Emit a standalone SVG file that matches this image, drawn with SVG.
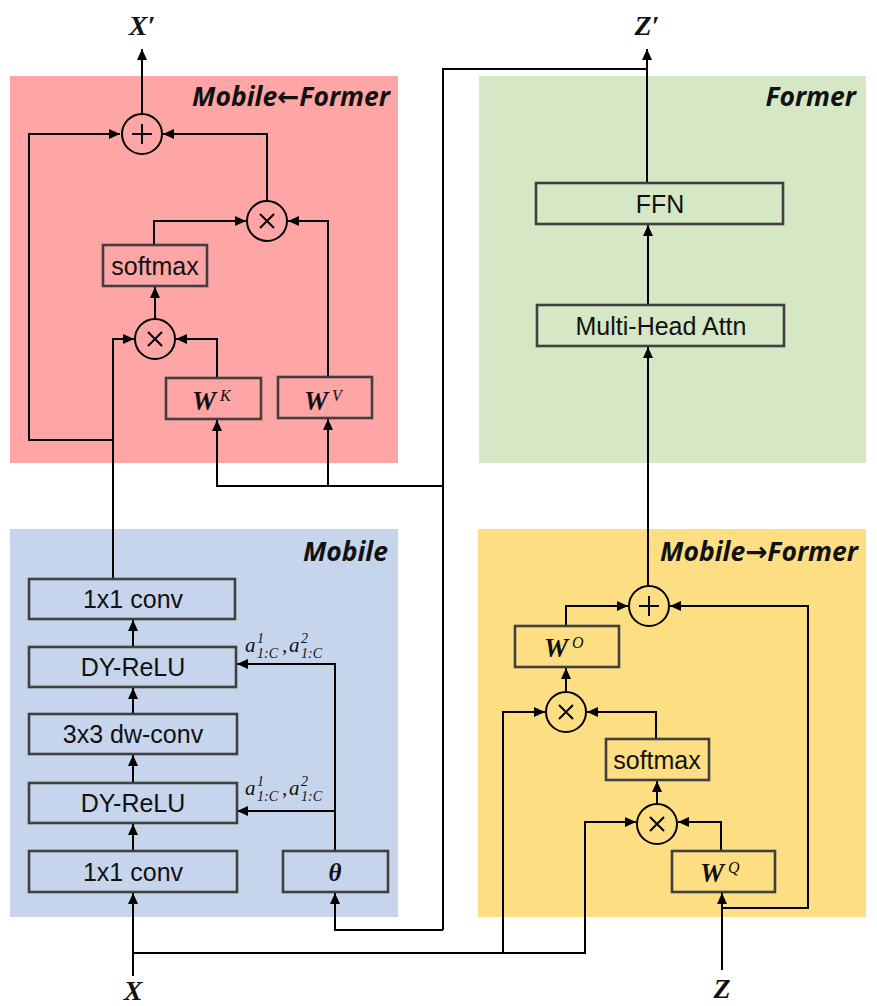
<svg xmlns="http://www.w3.org/2000/svg" width="877" height="1006" viewBox="0 0 877 1006">
<style>
.panel{stroke:none}
.box{stroke:#404040;stroke-width:2.6;fill:none}
.op{stroke:#000;stroke-width:2;fill:none}
.c{stroke:#000;stroke-width:2;fill:none}
.t{font-family:"Liberation Sans",Arial,sans-serif;font-size:25px;fill:#111;text-anchor:middle}
.pl{font-family:"Open Sans","DejaVu Sans",sans-serif;font-size:26.5px;font-weight:bold;font-style:italic;fill:#111;text-anchor:end}
.m{font-family:"Liberation Serif","DejaVu Serif",serif;font-weight:bold;font-style:italic;fill:#111}
.ms{font-family:"Liberation Serif","DejaVu Serif",serif;font-style:italic;fill:#111}
</style>
<defs>
<marker id="ah" markerUnits="userSpaceOnUse" markerWidth="12" markerHeight="12" refX="11" refY="5" orient="auto">
<path d="M0,0 L11,5 L0,10 z" fill="#000"/>
</marker>
</defs>
<rect width="877" height="1006" fill="#fff"/>
<g id="panels">
<rect id="panel-mf" class="panel" x="10" y="76" width="388" height="387" fill="#FEA6A6"/>
<rect id="panel-former" class="panel" x="479" y="76" width="387" height="387" fill="#D5E7C5"/>
<rect id="panel-mobile" class="panel" x="10" y="529" width="388" height="388" fill="#C6D4EC"/>
<rect id="panel-m2f" class="panel" x="478" y="529" width="388" height="388" fill="#FEDE82"/>
<text class="pl" x="390" y="106">Mobile←Former</text>
<text class="pl" x="856" y="106">Former</text>
<text class="pl" x="388" y="561">Mobile</text>
<text class="pl" x="858" y="561">Mobile→Former</text>
</g>
<g id="connectors">
<path class="c" d="M142,113 V49" marker-end="url(#ah)"/>
<path class="c" d="M113,440 H29 V134 H120" marker-end="url(#ah)"/>
<path class="c" d="M113,579 V339 H134" marker-end="url(#ah)"/>
<path class="c" d="M155,319 V287" marker-end="url(#ah)"/>
<path class="c" d="M154,245 V221 H246" marker-end="url(#ah)"/>
<path class="c" d="M328,377 V221 H288" marker-end="url(#ah)"/>
<path class="c" d="M267,201 V134 H163" marker-end="url(#ah)"/>
<path class="c" d="M217,378 V339 H176" marker-end="url(#ah)"/>
<path class="c" d="M443,930 V69 H647"/>
<path class="c" d="M443,486 H217 V420" marker-end="url(#ah)"/>
<path class="c" d="M328,486 V419" marker-end="url(#ah)"/>
<path class="c" d="M647,183 V49" marker-end="url(#ah)"/>
<path class="c" d="M648,305 V225" marker-end="url(#ah)"/>
<path class="c" d="M648,586 V347" marker-end="url(#ah)"/>
<path class="c" d="M133,851 V824" marker-end="url(#ah)"/>
<path class="c" d="M133,783 V755" marker-end="url(#ah)"/>
<path class="c" d="M133,714 V688" marker-end="url(#ah)"/>
<path class="c" d="M133,647 V620" marker-end="url(#ah)"/>
<path class="c" d="M335,851 V664 H237" marker-end="url(#ah)"/>
<path class="c" d="M335,811 H237" marker-end="url(#ah)"/>
<path class="c" d="M443,930 H335 V893" marker-end="url(#ah)"/>
<path class="c" d="M133,976 V893" marker-end="url(#ah)"/>
<path class="c" d="M133,953 H585 V822 H636" marker-end="url(#ah)"/>
<path class="c" d="M503,953 V712 H545" marker-end="url(#ah)"/>
<path class="c" d="M566,692 V668" marker-end="url(#ah)"/>
<path class="c" d="M566,626 V606 H628" marker-end="url(#ah)"/>
<path class="c" d="M656,739 V712 H587" marker-end="url(#ah)"/>
<path class="c" d="M657,804 V781" marker-end="url(#ah)"/>
<path class="c" d="M721,851 V822 H678" marker-end="url(#ah)"/>
<path class="c" d="M722,970 V893" marker-end="url(#ah)"/>
<path class="c" d="M722,908 H808 V606 H670" marker-end="url(#ah)"/>
</g>
<g id="mf-plus"><circle class="op" cx="142" cy="134" r="20"/><path class="op" d="M132,134 H152 M142,124 V144"/></g>
<g id="mf-times-top"><circle class="op" cx="267" cy="221" r="20"/><path class="op" d="M260,214 L274,228 M274,214 L260,228"/></g>
<g id="mf-softmax"><rect class="box" x="103" y="245" width="104" height="41"/><text class="t" x="155" y="275">softmax</text></g>
<g id="mf-times-bot"><circle class="op" cx="155" cy="339" r="20"/><path class="op" d="M148,332 L162,346 M162,332 L148,346"/></g>
<g id="mf-wk"><rect class="box" x="166" y="378" width="95" height="41"/><text class="m" x="192" y="410" font-size="27">W</text><text class="ms" x="220" y="401" font-size="16">K</text></g>
<g id="mf-wv"><rect class="box" x="278" y="377" width="94" height="41"/><text class="m" x="304" y="410" font-size="27">W</text><text class="ms" x="332" y="401" font-size="16">V</text></g>
<g id="ffn"><rect class="box" x="536" y="183" width="247" height="41"/><text class="t" x="660" y="213">FFN</text></g>
<g id="mha"><rect class="box" x="537" y="305" width="247" height="41"/><text class="t" x="661" y="335">Multi-Head Attn</text></g>
<g id="conv-top"><rect class="box" x="29" y="579" width="206" height="40"/><text class="t" x="133" y="608">1x1 conv</text></g>
<g id="dyrelu-1"><rect class="box" x="29" y="647" width="207" height="40"/><text class="t" x="133" y="676">DY-ReLU</text></g>
<g id="dwconv"><rect class="box" x="29" y="714" width="208" height="40"/><text class="t" x="133" y="743">3x3 dw-conv</text></g>
<g id="dyrelu-2"><rect class="box" x="29" y="783" width="208" height="40"/><text class="t" x="133" y="812">DY-ReLU</text></g>
<g id="conv-bot"><rect class="box" x="29" y="851" width="208" height="41"/><text class="t" x="133" y="881">1x1 conv</text></g>
<g id="theta"><rect class="box" x="283" y="851" width="105" height="41"/><text class="m" x="335" y="881" font-size="25" text-anchor="middle">θ</text></g>
<g id="a-label-1"><text class="ms" x="245" y="652" font-size="21">a</text><text class="ms" x="257" y="643" font-size="14">1</text><text class="ms" x="257" y="658" font-size="14">1:C</text><text class="ms" x="282" y="652" font-size="21">,</text><text class="ms" x="289" y="652" font-size="21">a</text><text class="ms" x="301" y="643" font-size="14">2</text><text class="ms" x="301" y="658" font-size="14">1:C</text></g>
<g id="a-label-2"><text class="ms" x="245" y="795" font-size="21">a</text><text class="ms" x="257" y="786" font-size="14">1</text><text class="ms" x="257" y="801" font-size="14">1:C</text><text class="ms" x="282" y="795" font-size="21">,</text><text class="ms" x="289" y="795" font-size="21">a</text><text class="ms" x="301" y="786" font-size="14">2</text><text class="ms" x="301" y="801" font-size="14">1:C</text></g>
<g id="m2f-plus"><circle class="op" cx="649" cy="606" r="20"/><path class="op" d="M639,606 H659 M649,596 V616"/></g>
<g id="m2f-wo"><rect class="box" x="515" y="626" width="104" height="41"/><text class="m" x="544" y="657" font-size="27">W</text><text class="ms" x="572" y="648" font-size="16">O</text></g>
<g id="m2f-times-top"><circle class="op" cx="566" cy="712" r="20"/><path class="op" d="M559,705 L573,719 M573,705 L559,719"/></g>
<g id="m2f-softmax"><rect class="box" x="606" y="739" width="103" height="41"/><text class="t" x="657" y="769">softmax</text></g>
<g id="m2f-times-bot"><circle class="op" cx="657" cy="824" r="20"/><path class="op" d="M650,817 L664,831 M664,817 L650,831"/></g>
<g id="m2f-wq"><rect class="box" x="672" y="851" width="103" height="41"/><text class="m" x="700" y="882" font-size="27">W</text><text class="ms" x="728" y="873" font-size="16">Q</text></g>
<g id="io-labels">
<text class="m" x="142" y="35" font-size="28" text-anchor="middle">X′</text>
<text class="m" x="647" y="35" font-size="28" text-anchor="middle">Z′</text>
<text class="m" x="133" y="1000" font-size="28" text-anchor="middle">X</text>
<text class="m" x="722" y="998" font-size="28" text-anchor="middle">Z</text>
</g>
</svg>
